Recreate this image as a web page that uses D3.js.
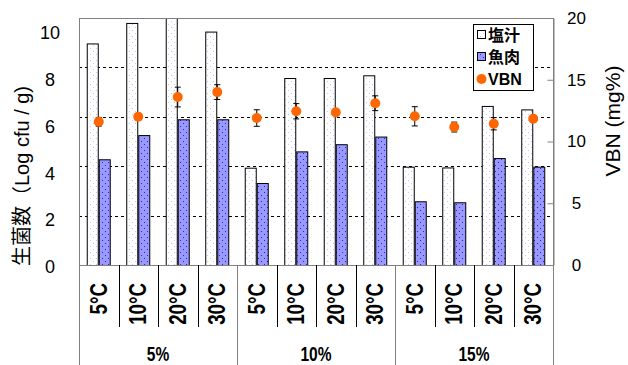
<!DOCTYPE html>
<html><head><meta charset="utf-8">
<script src="https://cdn.jsdelivr.net/npm/d3@7"></script>
<style>
body{margin:0;background:#fff;}
svg{display:block;font-family:Arial,"Liberation Sans",sans-serif;}
</style></head>
<body><svg id="c" width="628" height="365"></svg>
<script>
const groups = ["5%", "10%", "15%"];
const temps = ["5°C", "10°C", "20°C", "30°C"];
const seriesNames = ["塩汁", "魚肉", "VBN"];
const brine = [8.97, 9.8, 10.6, 9.45, 3.94, 7.57, 7.57, 7.68, 3.98, 3.95, 6.44, 6.3];
const fish = [4.28, 5.26, 5.9, 5.9, 3.32, 4.6, 4.89, 5.2, 2.58, 2.54, 4.33, 3.98];
const vbn = [11.6, 12.0, 13.6, 14.0, 11.9, 12.45, 12.36, 13.1, 12.04, 11.17, 11.44, 11.85];
const vbnErr = [0.35, 0.2, 0.8, 0.6, 0.67, 0.62, 0.15, 0.6, 0.78, 0.4, 0.5, 0.2];
const leftTicks = [0, 2, 4, 6, 8, 10];
const rightTicks = [0, 5, 10, 15, 20];

const cats = [];
groups.forEach(g => temps.forEach(t => cats.push({g, t, key: g + "|" + t})));
const data = cats.map((c, i) => ({...c, brine: brine[i], fish: fish[i], vbn: vbn[i], err: vbnErr[i]}));

const L = 79, R = 553, T = 18, B = 265;
const svg = d3.select("#c");
const defs = svg.append("defs");

function dots(id, bg, dot, size) {
  const p = defs.append("pattern").attr("id", id).attr("patternUnits", "userSpaceOnUse")
    .attr("width", size).attr("height", size);
  p.append("rect").attr("width", size).attr("height", size).attr("fill", bg);
  p.append("rect").attr("x", 0).attr("y", 0).attr("width", 1).attr("height", 1).attr("fill", dot);
  p.append("rect").attr("x", size / 2).attr("y", size / 2).attr("width", 1).attr("height", 1).attr("fill", dot);
}
dots("pBrine", "#ffffff", "#c4c4ff", 6);
dots("pFish", "#9999ff", "#2020ff", 6);
defs.append("clipPath").attr("id", "plotClip").append("rect")
  .attr("x", L).attr("y", T).attr("width", R - L).attr("height", B - T);

const x0 = d3.scaleBand().domain(cats.map(c => c.key)).range([L, R]).padding(0);
const x1 = d3.scaleBand().domain(["brine", "fish"]).range([0, x0.bandwidth()]).paddingInner(0).paddingOuter(0.645);
const y = d3.scaleLinear().domain([0, 10]).range([B, T]);
const yLab = d3.scaleLinear().domain([0, 10]).range([B + 2, T + 15]);
const yR = d3.scaleLinear().domain([0, 20]).range([B, T]);

// gridlines
svg.append("g").selectAll("line").data(leftTicks.filter(v => v > 0 && v < 10)).join("line")
  .attr("x1", L).attr("x2", R).attr("y1", d => Math.round(y(d)) + 0.5).attr("y2", d => Math.round(y(d)) + 0.5)
  .attr("stroke", "#000").attr("stroke-dasharray", "3,3").attr("stroke-width", 1);

// bars
const gBars = svg.append("g").attr("clip-path", "url(#plotClip)");
["brine", "fish"].forEach(s => {
  gBars.selectAll("rect." + s).data(data).join("rect").attr("class", s)
    .attr("x", d => x0(d.key) + x1(s) + 0.5)
    .attr("y", d => y(d[s]) + 0.5)
    .attr("width", x1.bandwidth() - 1)
    .attr("height", d => B - y(d[s]))
    .attr("fill", s === "brine" ? "url(#pBrine)" : "url(#pFish)")
    .attr("stroke", "#000").attr("stroke-width", 1);
});

// plot border
svg.append("rect").attr("x", L + 0.5).attr("y", T + 0.5).attr("width", R - L).attr("height", B - T)
  .attr("fill", "none").attr("stroke", "#808080").attr("stroke-width", 1);

// error bars and VBN dots
const cx = d => x0(d.key) + x0.bandwidth() / 2;
const gE = svg.append("g").attr("stroke", "#000").attr("stroke-width", 1);
gE.selectAll("line.v").data(data).join("line").attr("class", "v")
  .attr("x1", cx).attr("x2", cx).attr("y1", d => yR(d.vbn + d.err)).attr("y2", d => yR(d.vbn - d.err));
gE.selectAll("line.t").data(data).join("line").attr("class", "t")
  .attr("x1", d => cx(d) - 3).attr("x2", d => cx(d) + 3).attr("y1", d => yR(d.vbn + d.err)).attr("y2", d => yR(d.vbn + d.err));
gE.selectAll("line.b").data(data).join("line").attr("class", "b")
  .attr("x1", d => cx(d) - 3).attr("x2", d => cx(d) + 3).attr("y1", d => yR(d.vbn - d.err)).attr("y2", d => yR(d.vbn - d.err));
svg.append("g").selectAll("circle").data(data).join("circle")
  .attr("cx", cx).attr("cy", d => yR(d.vbn)).attr("r", 5).attr("fill", "#ff6600");

// left axis labels
const axL = svg.append("g").attr("transform", `translate(50,0)`)
  .call(d3.axisLeft(yLab).tickValues(leftTicks).tickSize(0).tickPadding(0));
axL.select(".domain").remove();
axL.selectAll("text").attr("text-anchor", "middle").attr("font-size", 18).attr("font-family", "Arial,'Liberation Sans',sans-serif").attr("fill", "#000");

// right axis
const axR = svg.append("g").attr("transform", `translate(${R + 0.5},0)`)
  .call(d3.axisRight(yR).tickValues(rightTicks).tickSizeInner(-6).tickSizeOuter(0).tickPadding(0));
axR.select(".domain").attr("stroke", "#808080");
axR.selectAll(".tick line").attr("stroke", "#808080");
axR.selectAll("text").attr("x", 23).attr("text-anchor", "middle").attr("font-size", 17).attr("font-family", "Arial,'Liberation Sans',sans-serif").attr("fill", "#000");

// category dividers
const bounds = d3.range(cats.length + 1).map(i => i === cats.length ? R : x0(cats[i].key));
svg.append("g").selectAll("line").data(bounds).join("line")
  .attr("x1", d => Math.round(d) + 0.5).attr("x2", d => Math.round(d) + 0.5)
  .attr("y1", B).attr("y2", (d, i) => i % temps.length === 0 ? 365 : 327)
  .attr("stroke", (d, i) => i % temps.length === 0 ? "#808080" : "#000").attr("stroke-width", 1);

// category labels (condensed bold)
svg.append("g").selectAll("text").data(data).join("text")
  .attr("transform", d => `translate(${cx(d) + 8},283) rotate(-90) scale(0.78,1)`)
  .attr("text-anchor", "end").attr("font-size", 24).attr("font-weight", "bold")
  .attr("font-family", "Arial,'Liberation Sans',sans-serif").text(d => d.t);

// group labels
svg.append("g").selectAll("text").data(groups).join("text")
  .attr("transform", g => `translate(${(x0(g + "|" + temps[0]) + x0(g + "|" + temps[temps.length - 1]) + x0.bandwidth()) / 2},361) scale(0.74,1)`)
  .attr("text-anchor", "middle").attr("font-size", 21).attr("font-weight", "bold")
  .attr("font-family", "Arial,'Liberation Sans',sans-serif").text(g => g);

// axis titles
svg.append("text").attr("transform", "translate(29,176) rotate(-90)").attr("text-anchor", "middle")
  .attr("font-size", 20).attr("font-family", "Arial,'Noto Sans CJK JP',sans-serif").text("生菌数（Log cfu / g)");
svg.append("text").attr("transform", "translate(620,121) rotate(-90)").attr("text-anchor", "middle")
  .attr("font-size", 21).attr("font-family", "Arial,'Liberation Sans',sans-serif").text("VBN (mg%)");

// legend
const lg = svg.append("g");
lg.append("rect").attr("x", 473.5).attr("y", 24.5).attr("width", 60).attr("height", 66)
  .attr("fill", "#fff").attr("stroke", "#000");
const rows = [35, 57, 79];
lg.append("rect").attr("x", 477.5).attr("y", rows[0] - 4.5).attr("width", 8).attr("height", 8).attr("fill", "url(#pBrine)").attr("stroke", "#000");
lg.append("rect").attr("x", 477.5).attr("y", rows[1] - 4.5).attr("width", 8).attr("height", 8).attr("fill", "url(#pFish)").attr("stroke", "#000");
lg.append("circle").attr("cx", 481.5).attr("cy", rows[2]).attr("r", 5).attr("fill", "#ff6600");
lg.selectAll("text").data(seriesNames).join("text")
  .attr("x", 488).attr("y", (d, i) => rows[i] + 6).attr("font-size", 16).attr("font-weight", "bold")
  .attr("font-family", "Arial,'Noto Sans CJK JP',sans-serif").text(d => d);
</script></body></html>
